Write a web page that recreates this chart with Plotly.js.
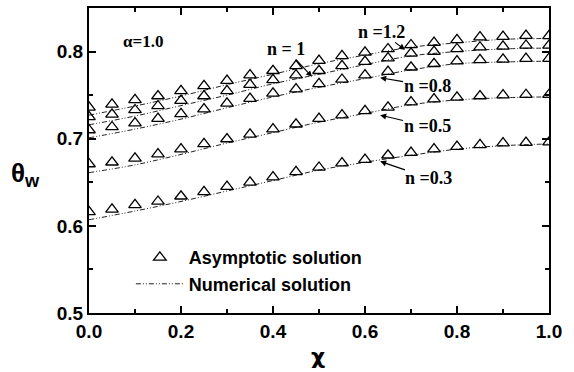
<!DOCTYPE html>
<html>
<head>
<meta charset="utf-8">
<script src="https://cdn.plot.ly/plotly-3.0.1.min.js"></script>
<style>html,body{margin:0;padding:0;background:#fff;}#chart{width:574px;height:372px;}</style>
</head>
<body>
<div id="chart"></div>
<script>
// chi values of the asymptotic-solution markers
var xAsym = [0, 0.05, 0.1, 0.15, 0.2, 0.25, 0.3, 0.35, 0.4, 0.45, 0.5, 0.55, 0.6, 0.65, 0.7, 0.75, 0.8, 0.85, 0.9, 0.95, 1.0];
// asymptotic solution theta_w
var asymN12 = [0.736, 0.7395, 0.7445, 0.749, 0.755, 0.7606, 0.7667, 0.773, 0.778, 0.7836, 0.7897, 0.795, 0.799, 0.803, 0.8076, 0.8103, 0.8135, 0.8166, 0.8172, 0.8184, 0.818];
var asymN10 = [0.725, 0.728, 0.733, 0.7376, 0.7437, 0.749, 0.755, 0.762, 0.7675, 0.773, 0.778, 0.7836, 0.7885, 0.7924, 0.798, 0.800, 0.803, 0.805, 0.806, 0.807, 0.807];
var asymN08 = [0.710, 0.7135, 0.718, 0.723, 0.7285, 0.734, 0.7405, 0.746, 0.752, 0.757, 0.763, 0.768, 0.773, 0.777, 0.782, 0.786, 0.789, 0.7905, 0.791, 0.792, 0.792];
var asymN05 = [0.671, 0.673, 0.6775, 0.6824, 0.688, 0.694, 0.6997, 0.705, 0.711, 0.7166, 0.723, 0.727, 0.732, 0.736, 0.742, 0.7455, 0.7475, 0.749, 0.750, 0.7505, 0.7505];
var asymN03 = [0.616, 0.619, 0.624, 0.628, 0.634, 0.639, 0.645, 0.650, 0.656, 0.662, 0.667, 0.672, 0.676, 0.681, 0.684, 0.688, 0.691, 0.693, 0.695, 0.6955, 0.696];
// numerical solution
var xNum = [0, 0.1, 0.2, 0.3, 0.4, 0.5, 0.6, 0.7, 0.8, 0.9, 1.0];
var numN12 = [0.727, 0.7375, 0.749, 0.762, 0.774, 0.786, 0.796, 0.805, 0.810, 0.814, 0.815];
var numN10 = [0.716, 0.726, 0.738, 0.750, 0.763, 0.774, 0.785, 0.795, 0.800, 0.803, 0.804];
var numN08 = [0.701, 0.711, 0.7225, 0.7355, 0.748, 0.759, 0.769, 0.779, 0.786, 0.788, 0.789];
var numN05 = [0.661, 0.670, 0.682, 0.695, 0.707, 0.719, 0.729, 0.739, 0.7445, 0.747, 0.748];
var numN03 = [0.607, 0.617, 0.628, 0.640, 0.652, 0.664, 0.673, 0.681, 0.688, 0.692, 0.694];

var asymAll = [asymN12, asymN10, asymN08, asymN05, asymN03];
var numAll = [numN12, numN10, numN08, numN05, numN03];

// arrow labels: text, arrow tip, and text position (data units)
var labelTexts = ['n =1.2', 'n = 1', 'n =0.8', 'n =0.5', 'n =0.3'];
var labelTipX = [0.687, 0.485, 0.633, 0.633, 0.633];
var labelTipY = [0.802, 0.771, 0.770, 0.727, 0.674];
var labelTextX = [0.635, 0.428, 0.735, 0.735, 0.739];
var labelTextY = [0.8226, 0.803, 0.7606, 0.7146, 0.6548];

var traces = [];
for (var i = 0; i < numAll.length; i++) {
  traces.push({
    x: xNum, y: numAll[i], type: 'scatter', mode: 'lines',
    name: 'Numerical solution', legendgroup: 'num', showlegend: i === 0, legendrank: 2,
    line: {color: '#222', width: 1, dash: '5px,2px,1px,2px,1px,2px', shape: 'spline', smoothing: 1},
    hoverinfo: 'skip'
  });
}
for (var j = 0; j < asymAll.length; j++) {
  traces.push({
    x: xAsym, y: asymAll[j], type: 'scatter', mode: 'markers',
    name: 'Asymptotic solution', legendgroup: 'asym', showlegend: j === 0, legendrank: 1,
    marker: {symbol: 'triangle-up-open', size: 11, color: '#000', line: {width: 1.3, color: '#000'}}
  });
}

var serifBold = {family: 'Liberation Serif, Times New Roman, serif', size: 18, color: '#000', weight: 700};
var annotations = [];
for (var k = 0; k < labelTexts.length; k++) {
  annotations.push({
    x: labelTipX[k], y: labelTipY[k], xref: 'x', yref: 'y', text: '<b>' + labelTexts[k] + '</b>',
    showarrow: true, arrowhead: 2, arrowsize: 1, arrowwidth: 1.2, arrowcolor: '#000',
    axref: 'x', ayref: 'y', ax: labelTextX[k], ay: labelTextY[k], font: serifBold, standoff: 0, borderpad: 0
  });
}
annotations.push({x: 0.117, y: 0.811, xref: 'x', yref: 'y', text: '<b>α=1.0</b>', showarrow: false,
  font: {family: 'Liberation Serif, Times New Roman, serif', size: 17, color: '#000', weight: 700}});
annotations.push({x: -0.175, y: 0.455, xref: 'paper', yref: 'paper', text: '<b>θ<sub>w</sub></b>', showarrow: false,
  font: {family: 'Liberation Sans, Arial, sans-serif', size: 26, color: '#000', weight: 700}});
annotations.push({x: 0.497, y: -0.096, xref: 'paper', yref: 'paper', text: '<b>χ</b>', showarrow: false, yanchor: 'top',
  font: {family: 'DejaVu Sans, sans-serif', size: 22, color: '#000', weight: 700}});

var tickFont = {family: 'Liberation Sans, Arial, sans-serif', size: 19, color: '#000', weight: 700};
var layout = {
  width: 574, height: 372,
  margin: {l: 89, r: 25, t: 8, b: 59},
  paper_bgcolor: '#fff', plot_bgcolor: '#fff',
  showlegend: true,
  legend: {x: 0.091, y: 0.242, xanchor: 'left', yanchor: 'top', bgcolor: 'rgba(0,0,0,0)',
    font: {family: 'Liberation Sans, Arial, sans-serif', size: 18, color: '#000', weight: 700},
    tracegroupgap: 0, itemwidth: 48},
  xaxis: {range: [0, 1], tickvals: [0, 0.2, 0.4, 0.6, 0.8, 1.0], ticktext: ['0.0', '0.2', '0.4', '0.6', '0.8', '1.0'],
    ticks: 'inside', ticklen: 7, tickwidth: 2, tickcolor: '#000', showline: true, linewidth: 2, linecolor: '#000',
    mirror: 'ticks', showgrid: false, zeroline: false, tickfont: tickFont,
    minor: {dtick: 0.1, tick0: 0, ticks: 'inside', ticklen: 4, tickwidth: 2, tickcolor: '#000', showgrid: false}},
  yaxis: {range: [0.5, 0.85], tickvals: [0.5, 0.6, 0.7, 0.8], ticktext: ['0.5', '0.6', '0.7', '0.8'],
    ticks: 'inside', ticklen: 7, tickwidth: 2, tickcolor: '#000', showline: true, linewidth: 2, linecolor: '#000',
    mirror: 'ticks', showgrid: false, zeroline: false, tickfont: tickFont,
    minor: {dtick: 0.05, tick0: 0.5, ticks: 'inside', ticklen: 4, tickwidth: 2, tickcolor: '#000', showgrid: false}},
  annotations: annotations
};
Plotly.newPlot('chart', traces, layout, {displayModeBar: false, staticPlot: true});
</script>
</body>
</html>
